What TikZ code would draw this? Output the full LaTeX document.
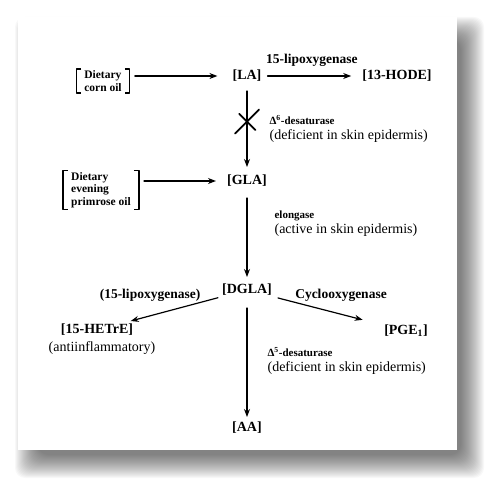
\documentclass[tikz,border=0pt]{standalone}
\usepackage{fontspec}
\setmainfont{Liberation Serif}
\usetikzlibrary{arrows.meta,shapes.misc}

\newcommand{\enz}[1]{{\fontsize{11}{12}\selectfont\bfseries #1}}

\begin{document}
\begin{tikzpicture}[
    x=1pt,
    y=-1pt,
    >=Stealth,
    line cap=round,
    line join=round,
    acid/.style={font=\fontsize{14}{16}\selectfont\bfseries, inner sep=3pt},
    enzyme/.style={font=\fontsize{13.5}{16}\selectfont\bfseries, inner sep=2pt},
    note/.style={font=\fontsize{14}{16}\selectfont, inner sep=1pt},
    diet/.style={font=\fontsize{11.5}{12.5}\selectfont\bfseries, align=left, inner xsep=8pt, inner ysep=1.5pt},
    flow/.style={draw=black, line width=1.2pt, -{Stealth[length=8pt,width=6pt]}},
    brak/.style={draw=black, line width=1.1pt, line cap=butt},
    side/.style={font=\fontsize{14}{15}\selectfont, align=left, anchor=west, inner sep=0pt},
    blocked/.style={cross out, draw=black, line width=1.8pt, minimum size=22pt, inner sep=0pt},
  ]

  \useasboundingbox (0,0) rectangle (493,486);

  % soft shadow and white card
  \foreach \k in {0,...,23}
    \fill[black, opacity=0.026, rounded corners=10pt] ({15+\k},{17+\k}) rectangle ({484-\k},{478-\k});
  \fill[white] (18,17) rectangle (457,450);

  % Fatty acids
  \node[acid] (la) at (247,76) {[LA]};
  \node[acid] (hode) at (397,76) {[13-HODE]};
  \node[acid] (gla) at (247,181) {[GLA]};
  \node[acid] (dgla) at (247,290) {[DGLA]};
  \node[acid] (hetre) at (97,330) {[15-HETrE]};
  \node[acid] (pge) at (406,331) {[PGE\textsubscript{1}]};
  \node[acid] (aa) at (247,428) {[AA]};
  \node[note] (anti) at (102,348) {(antiinflammatory)};

  % Dietary sources in brackets
  \node[diet] (corn) at (103,81) {Dietary\\corn oil};
  \node[diet] (prim) at (101,190) {Dietary\\evening\\primrose oil};
  \foreach \n in {corn,prim} {
    \draw[brak] ([xshift=5pt]\n.north west) -| (\n.south west) -- ++(5,0);
    \draw[brak] ([xshift=-5pt]\n.north east) -| (\n.south east) -- ++(-5,0);
  }

  % Enzymes at the branch point
  \node[enzyme] (lox) at (150,295) {(15-lipoxygenase)};
  \node[enzyme] (cox) at (341,295) {Cyclooxygenase};

  % Arrows
  \draw[flow, shorten <=5pt, shorten >=12pt] (corn.east |- la) -- (la);
  \draw[flow, shorten <=3pt, shorten >=8pt] (la) -- node[enzyme, above=7pt] (lox15) {15-lipoxygenase} (hode);
  \draw[flow, shorten <=5pt, shorten >=8pt] (prim.east |- gla) -- (gla);
  \draw[flow, shorten <=6pt, shorten >=5pt] (la) -- node[blocked, pos=0.42] (block) {}
    node[side, pos=0.5, xshift=22pt] (d6) {\enz{Δ\textsuperscript{6}-desaturase}\\(deficient in skin epidermis)} (gla);
  \draw[flow, shorten <=8pt, shorten >=4pt] (gla) -- node[side, pos=0.37, xshift=27pt] (elo) {\enz{elongase}\\(active in skin epidermis)} (dgla);
  \draw[flow, shorten <=1pt] (dgla) -- (hetre);
  \draw[flow, shorten <=3pt, shorten >=19pt] (dgla) -- (pge);
  \draw[flow, shorten <=9pt, shorten >=2pt] (dgla) -- node[side, pos=0.52, xshift=20pt] (d5) {\enz{Δ\textsuperscript{5}-desaturase}\\(deficient in skin epidermis)} (aa);
\end{tikzpicture}
\end{document}
